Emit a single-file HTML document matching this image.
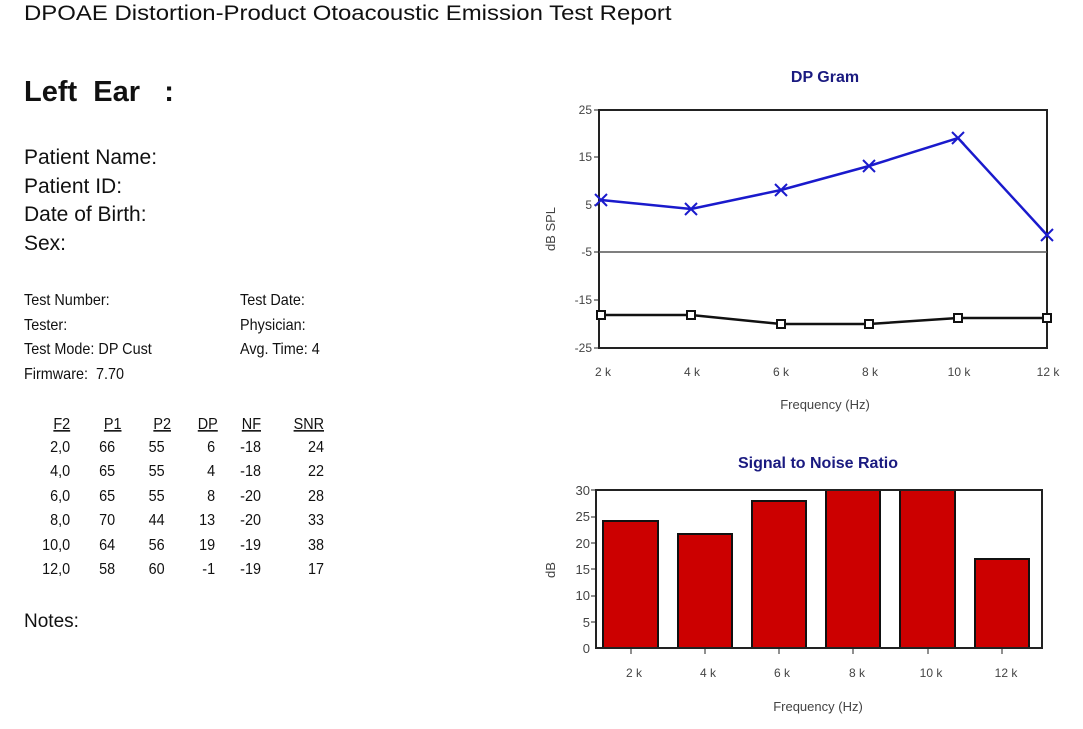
<!DOCTYPE html>
<html><head><meta charset="utf-8"><style>
body{margin:0;width:1083px;height:729px;background:#fff;font-family:"Liberation Sans",sans-serif;color:#111;position:relative;overflow:hidden}
.a{position:absolute;white-space:nowrap}
.s{font-size:16px;transform:scaleX(0.9);transform-origin:left}
</style></head><body>
<div class="a" style="left:24px;top:2px;font-size:21px;transform:scaleX(1.14);transform-origin:left">DPOAE Distortion-Product Otoacoustic Emission Test Report</div>
<div class="a" style="left:24px;top:76px;font-size:29px;font-weight:bold">Left &nbsp;Ear &nbsp; :</div>
<div class="a" style="left:24px;top:144px;font-size:21px;line-height:28.7px;transform:scaleX(1.0);transform-origin:left">Patient Name:<br>Patient ID:<br>Date of Birth:<br>Sex:</div>
<div class="a s" style="left:24px;top:289px;line-height:24.5px">Test Number:<br>Tester:<br>Test Mode: DP Cust<br>Firmware: &nbsp;7.70</div>
<div class="a s" style="left:240px;top:289px;line-height:24.5px">Test Date:<br>Physician:<br>Avg. Time: 4</div>
<svg class="a" style="left:0;top:0" width="540" height="729" font-family="Liberation Sans" font-size="16" fill="#111">
<g text-anchor="end" transform="scale(0.9,1)">
<g text-decoration="underline">
<text x="78" y="429">F2</text><text x="135" y="429">P1</text><text x="190" y="429">P2</text><text x="242" y="429">DP</text><text x="290" y="429">NF</text><text x="360" y="429">SNR</text></g>
<text x="78" y="452">2,0</text><text x="128" y="452">66</text><text x="183" y="452">55</text><text x="239" y="452">6</text><text x="290" y="452">-18</text><text x="360" y="452">24</text>
<text x="78" y="476">4,0</text><text x="128" y="476">65</text><text x="183" y="476">55</text><text x="239" y="476">4</text><text x="290" y="476">-18</text><text x="360" y="476">22</text>
<text x="78" y="501">6,0</text><text x="128" y="501">65</text><text x="183" y="501">55</text><text x="239" y="501">8</text><text x="290" y="501">-20</text><text x="360" y="501">28</text>
<text x="78" y="525">8,0</text><text x="128" y="525">70</text><text x="183" y="525">44</text><text x="239" y="525">13</text><text x="290" y="525">-20</text><text x="360" y="525">33</text>
<text x="78" y="550">10,0</text><text x="128" y="550">64</text><text x="183" y="550">56</text><text x="239" y="550">19</text><text x="290" y="550">-19</text><text x="360" y="550">38</text>
<text x="78" y="574">12,0</text><text x="128" y="574">58</text><text x="183" y="574">60</text><text x="239" y="574">-1</text><text x="290" y="574">-19</text><text x="360" y="574">17</text>
</g>
<text x="24" y="627" font-size="19">Notes:</text>
</svg>
<svg class="a" style="left:0;top:0" width="1083" height="729" font-family="Liberation Sans">
<text x="825" y="82" text-anchor="middle" font-size="16" font-weight="bold" fill="#1a1a80">DP Gram</text>
<rect x="599" y="110" width="448" height="238" fill="none" stroke="#222" stroke-width="2"/>
<line x1="599" y1="252" x2="1047" y2="252" stroke="#555" stroke-width="1.5"/>
<g font-size="12" fill="#444" text-anchor="end">
<text x="592" y="114">25</text><text x="592" y="161">15</text><text x="592" y="209">5</text><text x="592" y="256">-5</text><text x="592" y="304">-15</text><text x="592" y="352">-25</text></g>
<g stroke="#222"><line x1="594" y1="110" x2="599" y2="110"/><line x1="594" y1="157" x2="599" y2="157"/><line x1="594" y1="205" x2="599" y2="205"/><line x1="594" y1="252" x2="599" y2="252"/><line x1="594" y1="300" x2="599" y2="300"/><line x1="594" y1="348" x2="599" y2="348"/></g>
<g font-size="12" fill="#444" text-anchor="middle">
<text x="603" y="376">2 k</text><text x="692" y="376">4 k</text><text x="781" y="376">6 k</text><text x="870" y="376">8 k</text><text x="959" y="376">10 k</text><text x="1048" y="376">12 k</text></g>
<text x="825" y="409" text-anchor="middle" font-size="13" fill="#444">Frequency (Hz)</text>
<text transform="translate(555,229) rotate(-90)" text-anchor="middle" font-size="13" fill="#444">dB SPL</text>
<polyline points="601,200 691,209 781,190 869,166 958,138 1047,235" fill="none" stroke="#1a1acc" stroke-width="2.5"/>
<g stroke="#1a1acc" stroke-width="2">
<path d="M595,194l12,12M607,194l-12,12"/><path d="M685,203l12,12M697,203l-12,12"/><path d="M775,184l12,12M787,184l-12,12"/><path d="M863,160l12,12M875,160l-12,12"/><path d="M952,132l12,12M964,132l-12,12"/><path d="M1041,229l12,12M1053,229l-12,12"/></g>
<polyline points="601,315 691,315 781,324 869,324 958,318 1047,318" fill="none" stroke="#111" stroke-width="2.5"/>
<g fill="#fff" stroke="#111" stroke-width="2">
<rect x="597" y="311" width="8" height="8"/><rect x="687" y="311" width="8" height="8"/><rect x="777" y="320" width="8" height="8"/><rect x="865" y="320" width="8" height="8"/><rect x="954" y="314" width="8" height="8"/><rect x="1043" y="314" width="8" height="8"/></g>

<text x="818" y="468" text-anchor="middle" font-size="16" font-weight="bold" fill="#1a1a80">Signal to Noise Ratio</text>
<g fill="#cc0000" stroke="#111" stroke-width="2">
<rect x="603" y="521" width="55" height="127"/><rect x="678" y="534" width="54" height="114"/><rect x="752" y="501" width="54" height="147"/><rect x="826" y="490" width="54" height="158"/><rect x="900" y="490" width="55" height="158"/><rect x="975" y="559" width="54" height="89"/></g>
<rect x="596" y="490" width="446" height="158" fill="none" stroke="#222" stroke-width="2"/>
<g font-size="13" fill="#444" text-anchor="end">
<text x="590" y="495">30</text><text x="590" y="521">25</text><text x="590" y="548">20</text><text x="590" y="574">15</text><text x="590" y="600">10</text><text x="590" y="627">5</text><text x="590" y="653">0</text></g>
<g stroke="#222"><line x1="591" y1="490" x2="596" y2="490"/><line x1="591" y1="517" x2="596" y2="517"/><line x1="591" y1="543" x2="596" y2="543"/><line x1="591" y1="569" x2="596" y2="569"/><line x1="591" y1="596" x2="596" y2="596"/><line x1="591" y1="622" x2="596" y2="622"/>
<line x1="631" y1="648" x2="631" y2="654"/><line x1="705" y1="648" x2="705" y2="654"/><line x1="779" y1="648" x2="779" y2="654"/><line x1="853" y1="648" x2="853" y2="654"/><line x1="928" y1="648" x2="928" y2="654"/><line x1="1002" y1="648" x2="1002" y2="654"/></g>
<g font-size="12" fill="#444" text-anchor="middle">
<text x="634" y="677">2 k</text><text x="708" y="677">4 k</text><text x="782" y="677">6 k</text><text x="857" y="677">8 k</text><text x="931" y="677">10 k</text><text x="1006" y="677">12 k</text></g>
<text x="818" y="711" text-anchor="middle" font-size="13" fill="#444">Frequency (Hz)</text>
<text transform="translate(555,570) rotate(-90)" text-anchor="middle" font-size="13" fill="#444">dB</text>
</svg>
</body></html>
